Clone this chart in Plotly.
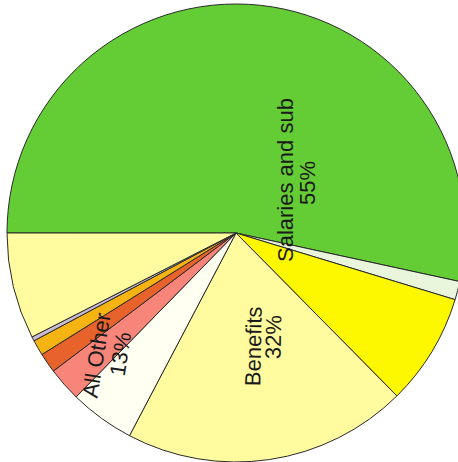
import plotly.graph_objects as go

# Slice data (percent of total), clockwise from 9 o'clock
slice_names = ["Salaries", "Sub", "Benefits - other", "Benefits", "Benefits - misc",
               "All Other A", "All Other B", "All Other C", "All Other D", "All Other E"]
slice_values = [53.4, 1.3, 7.9, 20.1, 4.6, 2.4, 1.4, 1.1, 0.3, 7.5]
slice_colors = ["#64cd36", "#eaf6dc", "#fdf800", "#fffb9e", "#fffff2",
                "#f7857a", "#e8622b", "#f6b412", "#c9bcd2", "#fffb9e"]

# Group labels shown on the chart
group_labels = ["Salaries and sub", "Benefits", "All Other"]
group_pcts = ["55%", "32%", "13%"]

W, H = 472, 462
R = 229

fig = go.Figure(go.Pie(
    labels=slice_names,
    values=slice_values,
    sort=False,
    direction="clockwise",
    rotation=270,
    textinfo="none",
    hoverinfo="label+percent",
    marker=dict(colors=slice_colors, line=dict(color="#2a2a2a", width=1)),
    domain=dict(x=[0, 1], y=[0, 2 * R / H]),
    showlegend=False,
))

def px(x, y):
    return x / W, 1 - y / H

# label placements (pixel centres, rotation)
label_pos = [
    [(285, 180, -90), (308, 183, -90)],
    [(253, 346, -89), (273, 337, -89)],
    [(96, 355, -81), (120, 354, -81)],
]
font = dict(family="Liberation Sans, Arial, sans-serif", size=22, color="#1a1a1a")
for lbl, pct, pos in zip(group_labels, group_pcts, label_pos):
    for txt, (x, y, a) in zip([lbl, pct], pos):
        xx, yy = px(x, y)
        fig.add_annotation(x=xx, y=yy, xref="paper", yref="paper", text=txt,
                           showarrow=False, textangle=a, font=font,
                           xanchor="center", yanchor="middle")

fig.update_layout(
    width=W, height=H,
    margin=dict(l=0, r=0, t=0, b=0),
    paper_bgcolor="white",
    plot_bgcolor="white",
)

fig.write_html(
    "out.html",
    config={"displayModeBar": False},
    post_script="document.documentElement.style.overflow='hidden';document.body.style.overflow='hidden';document.body.style.margin='0';",
)
